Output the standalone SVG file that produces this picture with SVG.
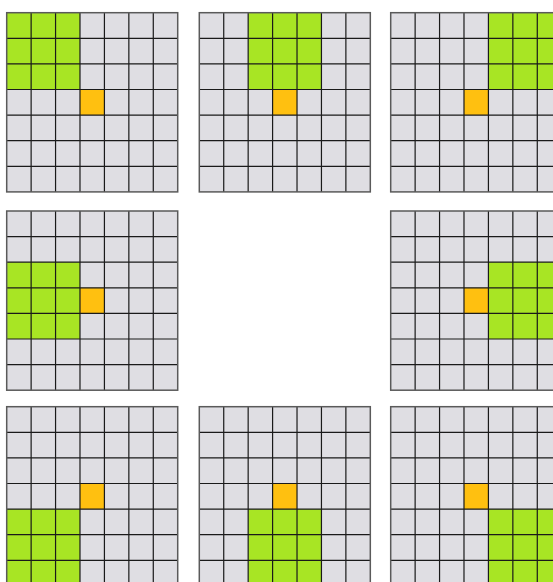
<svg xmlns="http://www.w3.org/2000/svg" xmlns:xlink="http://www.w3.org/1999/xlink" width="553" height="582" viewBox="0 0 553 582">
<style>
.bg{fill:#dfdee3}
.g{fill:#a8e524}
.o{fill:#ffc010}
.in{fill:none;stroke:#1a1a1a;stroke-width:1.2}
.out{fill:none;stroke:#5a5a5a;stroke-width:1.5}
</style>
<defs>
<rect id="base" class="bg" x="0" y="0" width="171.01" height="179.2"/>
<rect id="green" class="g" width="73.29" height="76.8"/>
<rect id="center" class="o" x="73.29" y="76.8" width="24.43" height="25.6"/>
<g id="lines">
<path class="in" d="M24.43 0V179.2M48.86 0V179.2M73.29 0V179.2M97.72 0V179.2M122.15 0V179.2M146.58 0V179.2M0 25.6H171.01M0 51.2H171.01M0 76.8H171.01M0 102.4H171.01M0 128H171.01M0 153.6H171.01"/>
<rect class="out" x="0" y="0" width="171.01" height="179.2"/>
</g>
</defs>
<g id="grid-top-left" transform="translate(6.7,12.7)">
<use xlink:href="#base"/><use xlink:href="#green" x="0" y="0"/><use xlink:href="#center"/><use xlink:href="#lines"/>
</g>
<g id="grid-top-middle" transform="translate(199.3,12.7)">
<use xlink:href="#base"/><use xlink:href="#green" x="48.86" y="0"/><use xlink:href="#center"/><use xlink:href="#lines"/>
</g>
<g id="grid-top-right" transform="translate(390.7,12.7)">
<use xlink:href="#base"/><use xlink:href="#green" x="97.72" y="0"/><use xlink:href="#center"/><use xlink:href="#lines"/>
</g>
<g id="grid-middle-left" transform="translate(6.7,211)">
<use xlink:href="#base"/><use xlink:href="#green" x="0" y="51.2"/><use xlink:href="#center"/><use xlink:href="#lines"/>
</g>
<g id="grid-middle-right" transform="translate(390.7,211)">
<use xlink:href="#base"/><use xlink:href="#green" x="97.72" y="51.2"/><use xlink:href="#center"/><use xlink:href="#lines"/>
</g>
<g id="grid-bottom-left" transform="translate(6.7,406.7)">
<use xlink:href="#base"/><use xlink:href="#green" x="0" y="102.4"/><use xlink:href="#center"/><use xlink:href="#lines"/>
</g>
<g id="grid-bottom-middle" transform="translate(199.3,406.7)">
<use xlink:href="#base"/><use xlink:href="#green" x="48.86" y="102.4"/><use xlink:href="#center"/><use xlink:href="#lines"/>
</g>
<g id="grid-bottom-right" transform="translate(390.7,406.7)">
<use xlink:href="#base"/><use xlink:href="#green" x="97.72" y="102.4"/><use xlink:href="#center"/><use xlink:href="#lines"/>
</g>
<g id="connectors"></g>
</svg>
